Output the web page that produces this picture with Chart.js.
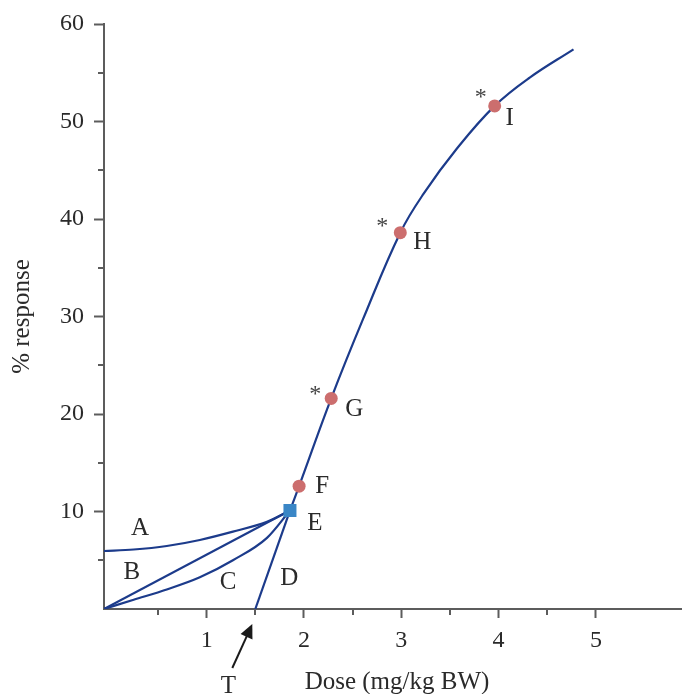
<!DOCTYPE html>
<html><head><meta charset="utf-8">
<script src="https://cdn.jsdelivr.net/npm/chart.js@4/dist/chart.umd.min.js"></script>
<style>html,body{margin:0;padding:0;background:#fff}#wrap{width:682px;height:694px}</style>
</head><body><div id="wrap"><canvas id="c" width="682" height="694"></canvas></div>
<script>
// ---- data ----
const curveADose = [-0.055, 0.25, 0.59, 0.93, 1.27, 1.62, 1.856];
const curveAResp = [5.95, 6.1, 6.46, 7.08, 7.93, 8.95, 10.1];
const curveBDose = [-0.055, 1.856];
const curveBResp = [0, 10.1];
const curveCDose = [-0.055, 0.25, 0.59, 0.93, 1.27, 1.62, 1.856];
const curveCResp = [0, 0.95, 2.0, 3.25, 5.0, 7.3, 10.1];
const curveDDose = [1.5, 1.856];
const curveDResp = [0, 10.1];
const mainDose = [1.856, 1.95, 2.28, 2.61, 2.99, 3.23, 3.57, 3.96, 4.32, 4.77];
const mainResp = [10.1, 12.6, 21.6, 29.8, 38.6, 42.6, 47.2, 51.6, 54.5, 57.4];
const pointDose = [1.95, 2.28, 2.99, 3.96];
const pointResp = [12.6, 21.6, 38.6, 51.6];
const pointNames = ['F', 'G', 'H', 'I'];
const pointSignificant = [false, true, true, true];
const eDose = [1.856];
const eResp = [10.1];
const eName = 'E';
const curveNames = ['A', 'B', 'C', 'D'];
const curveLabelDose = [0.315, 0.23, 1.22, 1.85];
const curveLabelResp = [8.3, 3.8, 2.77, 3.18];
const thresholdDose = 1.5;
const thresholdName = 'T';
const xTickValues = [0.5, 1, 1.5, 2, 2.5, 3, 3.5, 4, 4.5, 5];
const yTickValues = [5, 10, 15, 20, 25, 30, 35, 40, 45, 50, 55, 60];
const xTitle = 'Dose (mg/kg BW)';
const yTitle = '% response';

// ---- styles ----
const lineColor = '#1c3b8b';
const dotColor = '#cc6e6e';
const squareColor = '#3a86c6';
const axisColor = '#5c5c5c';
const textColor = '#2a2a2a';
const serif = "'Liberation Serif', 'DejaVu Serif', serif";

const pts = (xs, ys) => xs.map((x, i) => ({x: x, y: ys[i]}));
const lineDs = (xs, ys, mode) => ({
  data: pts(xs, ys), showLine: true, borderColor: lineColor, borderWidth: 2.2,
  pointRadius: 0, fill: false,
  cubicInterpolationMode: mode === 'mono' ? 'monotone' : 'default',
  tension: mode === 'smooth' ? 0.4 : 0
});

const annot = {
  id: 'annot',
  afterDatasetsDraw(chart) {
    const ctx = chart.ctx, xs = chart.scales.x, ys = chart.scales.y, ca = chart.chartArea;
    ctx.save();
    // minor ticks
    ctx.strokeStyle = axisColor; ctx.lineWidth = 2;
    xTickValues.filter(v => !Number.isInteger(v)).forEach(v => {
      const p = Math.round(xs.getPixelForValue(v));
      ctx.beginPath(); ctx.moveTo(p, ca.bottom); ctx.lineTo(p, ca.bottom + 6); ctx.stroke();
    });
    yTickValues.filter(v => v % 10 !== 0).forEach(v => {
      const p = Math.round(ys.getPixelForValue(v));
      ctx.beginPath(); ctx.moveTo(ca.left, p); ctx.lineTo(ca.left - 6, p); ctx.stroke();
    });
    ctx.fillStyle = textColor;
    ctx.textAlign = 'center'; ctx.textBaseline = 'middle';
    ctx.font = '25px ' + serif;
    // curve labels
    curveNames.forEach((n, i) => {
      ctx.fillText(n, xs.getPixelForValue(curveLabelDose[i]), ys.getPixelForValue(curveLabelResp[i]));
    });
    // point labels
    const offs = {E: [25, 13], F: [23, 0], G: [23, 11], H: [22, 10], I: [15, 13]};
    const starOffs = {G: [-16, -9], H: [-18, -11], I: [-14, -13]};
    ctx.fillText(eName, xs.getPixelForValue(eDose[0]) + offs.E[0], ys.getPixelForValue(eResp[0]) + offs.E[1]);
    pointNames.forEach((n, i) => {
      const px = xs.getPixelForValue(pointDose[i]), py = ys.getPixelForValue(pointResp[i]);
      ctx.fillStyle = textColor; ctx.font = '25px ' + serif;
      ctx.fillText(n, px + offs[n][0], py + offs[n][1]);
      if (pointSignificant[i]) {
        ctx.fillStyle = '#444'; ctx.font = '24px ' + serif;
        ctx.fillText('*', px + starOffs[n][0], py + starOffs[n][1] + 5);
      }
    });
    // threshold arrow
    const tx = xs.getPixelForValue(thresholdDose), ty = ys.getPixelForValue(0);
    const tip = [tx - 3, ty + 15], tail = [tx - 23, ty + 59];
    const ang = Math.atan2(tip[1] - tail[1], tip[0] - tail[0]);
    ctx.strokeStyle = '#1a1a1a'; ctx.fillStyle = '#1a1a1a'; ctx.lineWidth = 2;
    ctx.beginPath(); ctx.moveTo(tail[0], tail[1]);
    ctx.lineTo(tip[0] - 10 * Math.cos(ang), tip[1] - 10 * Math.sin(ang)); ctx.stroke();
    ctx.beginPath();
    ctx.moveTo(tip[0], tip[1]);
    ctx.lineTo(tip[0] - 14 * Math.cos(ang) + 6.5 * Math.sin(ang), tip[1] - 14 * Math.sin(ang) - 6.5 * Math.cos(ang));
    ctx.lineTo(tip[0] - 14 * Math.cos(ang) - 6.5 * Math.sin(ang), tip[1] - 14 * Math.sin(ang) + 6.5 * Math.cos(ang));
    ctx.closePath(); ctx.fill();
    ctx.fillStyle = textColor; ctx.font = '25px ' + serif;
    ctx.fillText(thresholdName, tx - 27, ty + 77);
    // axis titles
    ctx.fillText(xTitle, 397, 682);
    ctx.translate(22, (ca.top + ca.bottom) / 2);
    ctx.rotate(-Math.PI / 2);
    ctx.fillText(yTitle, 0, 0);
    ctx.restore();
  }
};

new Chart(document.getElementById('c'), {
  type: 'scatter',
  data: {
    datasets: [
      {data: pts(eDose, eResp), pointStyle: 'rect', pointRadius: 9.2, backgroundColor: squareColor, borderWidth: 0},
      {data: pts(pointDose, pointResp), pointStyle: 'circle', pointRadius: 6.5, backgroundColor: dotColor, borderWidth: 0},
      lineDs(mainDose, mainResp, 'smooth'),
      lineDs(curveADose, curveAResp, 'mono'),
      lineDs(curveBDose, curveBResp, 'straight'),
      lineDs(curveCDose, curveCResp, 'mono'),
      lineDs(curveDDose, curveDResp, 'straight')
    ]
  },
  options: {
    responsive: false, animation: false, devicePixelRatio: 1,
    layout: {autoPadding: false, padding: {left: 0, right: 0, top: 24, bottom: 0}},
    plugins: {legend: {display: false}, tooltip: {enabled: false}},
    elements: {point: {hoverRadius: 0}},
    scales: {
      x: {
        type: 'linear', min: -0.055, max: 5.885,
        afterBuildTicks: s => { s.ticks = xTickValues.map(v => ({value: v})); },
        afterFit: s => { s.height = 85; s.paddingLeft = 0; s.paddingRight = 0; },
        border: {color: axisColor, width: 2},
        grid: {drawOnChartArea: false, tickLength: 9, tickWidth: 2,
               tickColor: c => (c.tick && Number.isInteger(c.tick.value)) ? axisColor : 'rgba(0,0,0,0)'},
        ticks: {autoSkip: false, maxRotation: 0, padding: 8, color: textColor,
                font: {family: serif, size: 24},
                callback: v => Number.isInteger(v) ? String(v) : ''}
      },
      y: {
        type: 'linear', min: 0, max: 60,
        afterBuildTicks: s => { s.ticks = yTickValues.map(v => ({value: v})); },
        afterFit: s => { s.width = 104; s.paddingTop = 0; s.paddingBottom = 0; },
        border: {color: axisColor, width: 2},
        grid: {drawOnChartArea: false, tickLength: 10, tickWidth: 2,
               tickColor: c => (c.tick && c.tick.value % 10 === 0) ? axisColor : 'rgba(0,0,0,0)'},
        ticks: {autoSkip: false, padding: 10, color: textColor,
                font: {family: serif, size: 24},
                callback: v => (v % 10 === 0) ? String(v) : ''}
      }
    }
  },
  plugins: [annot]
});
</script></body></html>
